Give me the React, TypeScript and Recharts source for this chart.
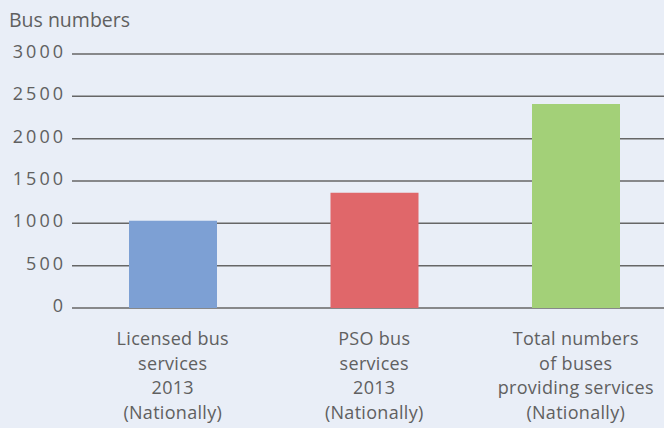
import { BarChart, Bar, XAxis, YAxis, CartesianGrid, Cell } from "recharts";

// Bus numbers by service type
const categories = [
  "Licensed bus|services|2013|(Nationally)",
  "PSO bus|services|2013|(Nationally)",
  "Total numbers|of buses|providing services|(Nationally)",
];
const busNumbers = [1030, 1360, 2410];
const barColors = ["#7DA0D4", "#E0676A", "#A3D078"];
const yTicks = [0, 500, 1000, 1500, 2000, 2500, 3000];

const data = categories.map((name, i) => ({ name, value: busNumbers[i] }));

const FONT = "'Open Sans', sans-serif";
const TEXT = "#606060";

// Multi-line category label, lines split on "|", one <text> with tspans
const CategoryTick = (props: any) => {
  const { x, y, payload } = props;
  const lines = String(payload.value).split("|");
  return (
    <text
      x={x}
      y={y + 29}
      textAnchor="middle"
      fill={TEXT}
      fontFamily={FONT}
      fontSize={18}
      style={{ letterSpacing: 0.3 }}
    >
      {lines.map((line: string, i: number) => (
        <tspan key={i} x={x} dy={i === 0 ? 0 : 24.5}>
          {line}
        </tspan>
      ))}
    </text>
  );
};

const ValueTick = (props: any) => {
  const { x, y, payload } = props;
  return (
    <text
      x={x}
      y={y - 2.5}
      dy="0.355em"
      textAnchor="end"
      fill={TEXT}
      fontFamily={FONT}
      fontSize={18}
      style={{ letterSpacing: 3 }}
    >
      {payload.value}
    </text>
  );
};

export default function App() {
  return (
    <div
      style={{
        position: "fixed",
        left: 0,
        top: 0,
        width: 664,
        height: 428,
        overflow: "hidden",
        background: "#E9EEF7",
      }}
    >
      <div
        style={{
          position: "absolute",
          left: 9,
          top: 6,
          fontFamily: FONT,
          fontSize: 19.5,
          color: TEXT,
          whiteSpace: "nowrap",
        }}
      >
        Bus numbers
      </div>
      <BarChart
        width={690}
        height={428}
        data={data}
        margin={{ top: 54, right: 13.5, bottom: 10, left: 0 }}
      >
        <CartesianGrid vertical={false} stroke="#666" strokeWidth={1.5} />
        <XAxis
          dataKey="name"
          axisLine={false}
          tickLine={false}
          height={110}
          interval={0}
          tick={<CategoryTick />}
        />
        <YAxis
          width={72}
          domain={[0, 3000]}
          ticks={yTicks}
          axisLine={false}
          tickLine={false}
          tickSize={6}
          tickMargin={0}
          tick={<ValueTick />}
        />
        <Bar dataKey="value" barSize={88} isAnimationActive={false}>
          {data.map((d, i) => (
            <Cell key={d.name} fill={barColors[i]} />
          ))}
        </Bar>
      </BarChart>
    </div>
  );
}
